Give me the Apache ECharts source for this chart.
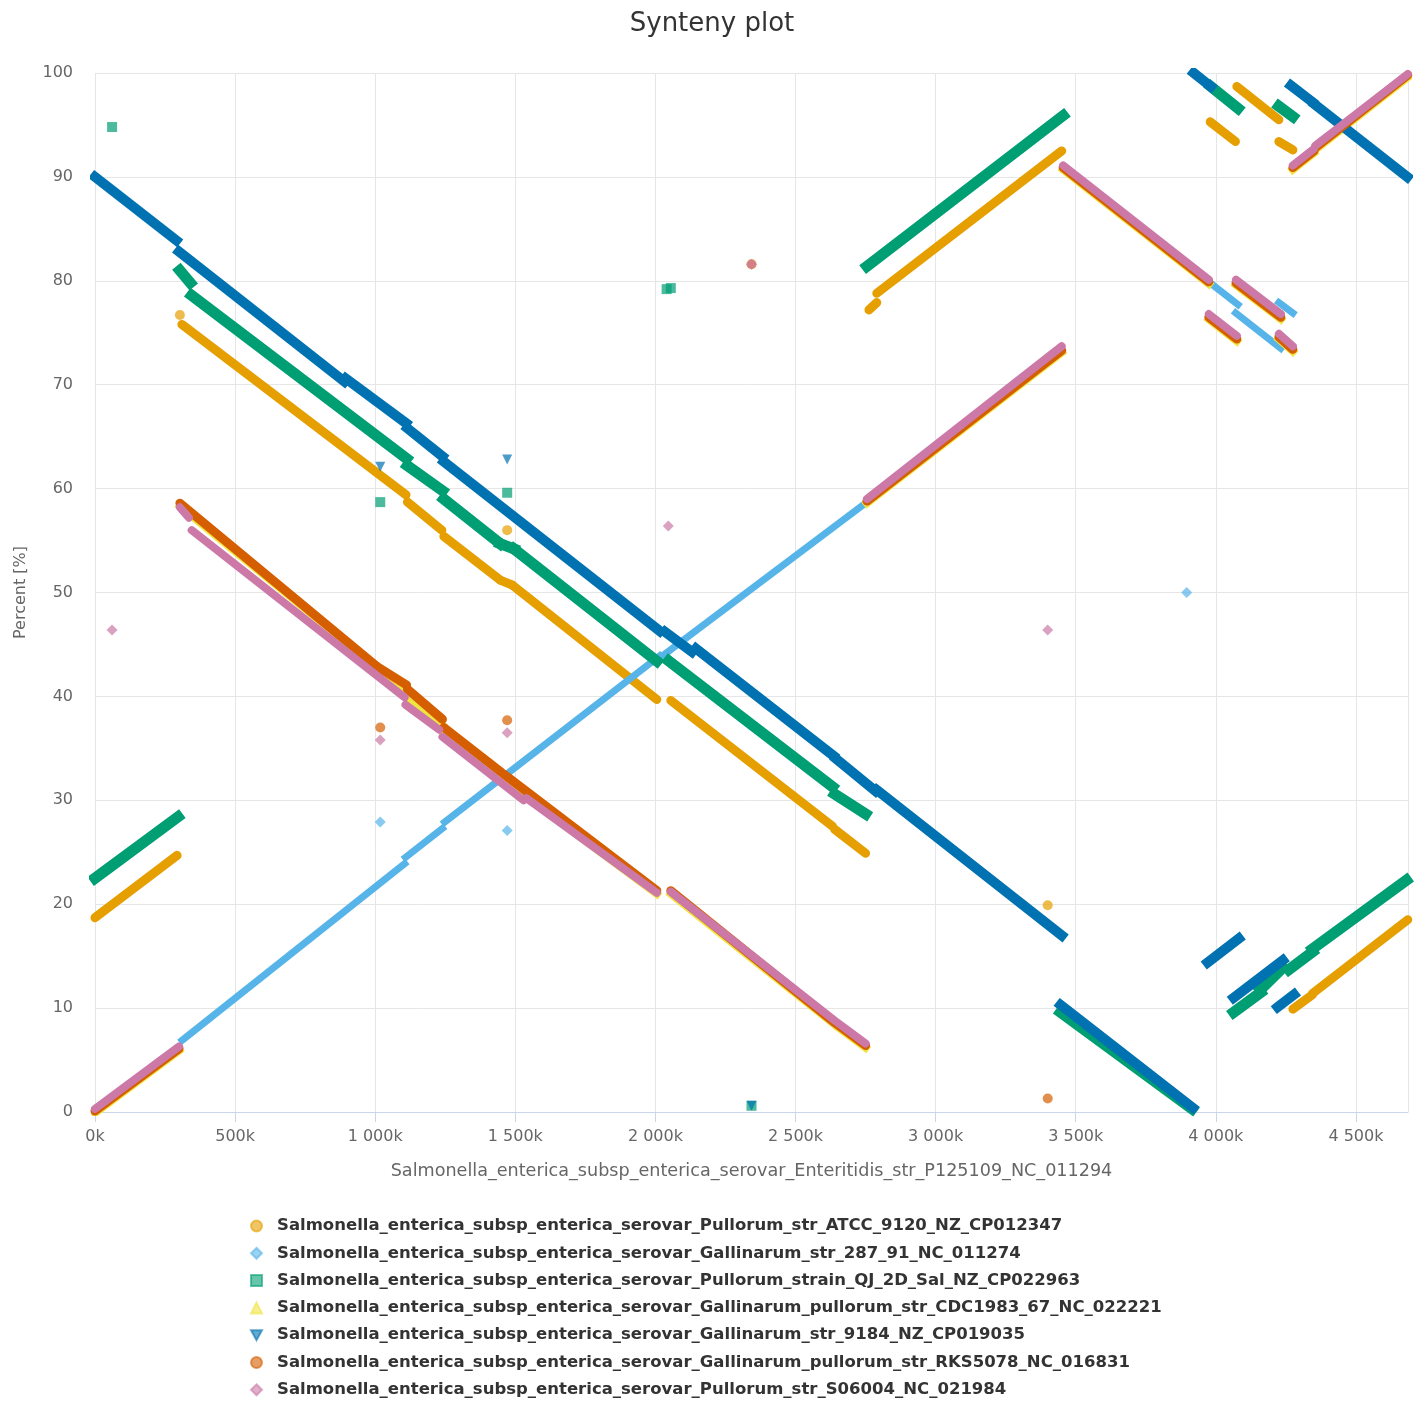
<!DOCTYPE html>
<html>
<head>
<meta charset="utf-8">
<script src="https://cdn.jsdelivr.net/npm/echarts@6/dist/echarts.min.js"></script>
<style>
html,body{margin:0;padding:0;background:#fff;}
#chart{width:1424px;height:1401px;}
</style>
</head>
<body>
<div id="chart"></div>
<script>
// ---- Data (x in bp of the Enteritidis P125109 reference, y in percent) ----
const seriesNames = [
  'Salmonella_enterica_subsp_enterica_serovar_Pullorum_str_ATCC_9120_NZ_CP012347',
  'Salmonella_enterica_subsp_enterica_serovar_Gallinarum_str_287_91_NC_011274',
  'Salmonella_enterica_subsp_enterica_serovar_Pullorum_strain_QJ_2D_Sal_NZ_CP022963',
  'Salmonella_enterica_subsp_enterica_serovar_Gallinarum_pullorum_str_CDC1983_67_NC_022221',
  'Salmonella_enterica_subsp_enterica_serovar_Gallinarum_str_9184_NZ_CP019035',
  'Salmonella_enterica_subsp_enterica_serovar_Gallinarum_pullorum_str_RKS5078_NC_016831',
  'Salmonella_enterica_subsp_enterica_serovar_Pullorum_str_S06004_NC_021984'
];
const xAxisTitle = 'Salmonella_enterica_subsp_enterica_serovar_Enteritidis_str_P125109_NC_011294';
const xTicks = [0, 500000, 1000000, 1500000, 2000000, 2500000, 3000000, 3500000, 4000000, 4500000];
const yTicks = [0, 10, 20, 30, 40, 50, 60, 70, 80, 90, 100];

// synteny runs: each is [start point, end point]
const atccRuns = [
  [[0,18.7],[293000,24.7]],
  [[310000,75.8],[1110000,59.4]],
  [[1115000,58.7],[1238000,56.0]],
  [[1245000,55.4],[1446000,51.2]],
  [[1446000,51.2],[1490000,50.7]],
  [[1490000,50.7],[2005000,39.7]],
  [[2055000,39.6],[2632000,27.5]],
  [[2640000,27.2],[2750000,24.9]],
  [[2762000,77.2],[2790000,77.9]],
  [[2790000,78.8],[3450000,92.5]],
  [[3980000,95.3],[4070000,93.4]],
  [[4075000,98.7],[4225000,95.5]],
  [[4225000,93.4],[4275000,92.6]],
  [[4275000,9.9],[4345000,11.3]],
  [[4345000,11.4],[4685000,18.5]]
];
const atccPoints = [[303000,76.7],[1471000,56.0],[3400000,19.9]];

const g28791Runs = [
  [[311000,6.9],[1105000,23.9]],
  [[1108000,24.5],[1240000,27.3]],
  [[1248000,27.9],[2015000,43.9]],
  [[2030000,44.0],[2750000,58.6]],
  [[3975000,79.9],[4079000,77.7]],
  [[4071000,76.9],[4232000,73.5]],
  [[4225000,77.9],[4275000,76.9]]
];
const g28791Points = [[1018000,27.9],[1471000,27.1],[3896000,50.0]];

const qjRuns = [
  [[0,22.5],[296000,28.4]],
  [[303000,81.0],[340000,79.8]],
  [[345000,78.6],[1112000,62.9]],
  [[1115000,62.2],[1240000,59.8]],
  [[1245000,59.0],[1446000,54.7]],
  [[1446000,54.7],[1495000,54.2]],
  [[1495000,54.2],[2005000,43.4]],
  [[2048000,43.4],[2632000,31.3]],
  [[2640000,30.6],[2750000,28.7]],
  [[2755000,81.4],[3455000,95.9]],
  [[3446000,9.6],[3915000,0.3]],
  [[3982000,98.7],[4079000,96.6]],
  [[4225000,96.8],[4275000,95.8]],
  [[4064000,9.6],[4160000,11.5]],
  [[4160000,11.8],[4239000,13.9]],
  [[4261000,13.7],[4345000,15.4]],
  [[4345000,15.7],[4680000,22.3]]
];
const qjPoints = [[61000,94.8],[1018000,58.7],[1471000,59.6],[2040000,79.2],[2055000,79.3],[2343000,0.6]];

const cdcRuns = [
  [[0,-0.1],[300000,5.9]],
  [[303000,58.3],[1105000,40.6]],
  [[1110000,39.9],[1240000,37.2]],
  [[1245000,36.5],[1530000,30.4]],
  [[1540000,30.3],[2005000,21.0]],
  [[2055000,21.0],[2640000,8.4]],
  [[2650000,8.2],[2750000,6.2]],
  [[2755000,58.6],[3450000,73.1]],
  [[3455000,90.7],[3975000,79.7]],
  [[4072000,79.6],[4232000,76.3]],
  [[3975000,76.3],[4075000,74.2]],
  [[4225000,74.4],[4275000,73.2]],
  [[4275000,90.7],[4350000,92.3]],
  [[4355000,92.6],[4685000,99.6]]
];
const cdcPoints = [];

const g9184Runs = [
  [[0,90.0],[290000,83.9]],
  [[300000,82.8],[890000,70.3]],
  [[895000,70.6],[1110000,66.3]],
  [[1115000,65.8],[1240000,63.1]],
  [[1245000,62.6],[2015000,46.3]],
  [[2035000,46.2],[2130000,44.3]],
  [[2145000,44.6],[2635000,34.3]],
  [[2645000,34.0],[2785000,30.9]],
  [[2790000,31.0],[3450000,17.0]],
  [[3446000,10.3],[3918000,0.4]],
  [[3921000,100.0],[3982000,98.7]],
  [[4268000,98.8],[4345000,97.2]],
  [[4352000,97.0],[4683000,90.0]],
  [[3971000,14.4],[4082000,16.7]],
  [[4064000,11.0],[4239000,14.6]],
  [[4221000,10.1],[4279000,11.3]]
];
const g9184Points = [[1018000,62.1],[1471000,62.8],[2343000,0.6]];

const rksRuns = [
  [[0,0.1],[300000,6.1]],
  [[303000,58.6],[1005000,42.9]],
  [[1005000,42.9],[1112000,41.1]],
  [[1115000,40.7],[1240000,37.8]],
  [[1245000,37.0],[1450000,32.7]],
  [[1460000,32.5],[2005000,21.3]],
  [[2055000,21.3],[2640000,8.6]],
  [[2650000,8.4],[2750000,6.4]],
  [[2755000,58.8],[3450000,73.3]],
  [[3455000,90.9],[3975000,79.9]],
  [[4072000,79.8],[4232000,76.5]],
  [[3975000,76.5],[4075000,74.4]],
  [[4225000,74.6],[4275000,73.4]],
  [[4275000,90.9],[4350000,92.5]],
  [[4355000,92.8],[4685000,99.8]]
];
const rksPoints = [[1018000,37.0],[1471000,37.7],[2343000,81.6],[3400000,1.3]];

const s06004Runs = [
  [[0,0.3],[300000,6.3]],
  [[303000,58.2],[335000,57.2]],
  [[345000,56.0],[1105000,39.9]],
  [[1108000,39.2],[1228000,36.8]],
  [[1240000,36.1],[1530000,30.0]],
  [[1540000,30.2],[2005000,21.1]],
  [[2055000,21.2],[2640000,8.8]],
  [[2650000,8.6],[2750000,6.6]],
  [[2755000,59.0],[3450000,73.7]],
  [[3455000,91.1],[3975000,80.1]],
  [[4072000,80.1],[4232000,76.8]],
  [[3975000,76.8],[4075000,74.7]],
  [[4225000,74.9],[4275000,73.7]],
  [[4275000,91.1],[4350000,92.7]],
  [[4355000,93.0],[4685000,99.9]]
];
const s06004Points = [[61000,46.4],[1018000,35.8],[1471000,36.5],[2046000,56.4],[2343000,81.6],[3400000,46.4]];

// ---- Styling ----
const colors = ['#E69F00','#56B4E9','#009E73','#F0E442','#0072B2','#D55E00','#CC79A7'];
const triDown = 'path://M0,0L10,0L5,9Z';
const symbols = ['circle','diamond','rect','triangle',triDown,'circle','diamond'];
const widths = [9, 7, 11, 8, 10, 9, 8];
const caps = ['round','square','square','square','square','round','round'];
const runs = [atccRuns, g28791Runs, qjRuns, cdcRuns, g9184Runs, rksRuns, s06004Runs];
const points = [atccPoints, g28791Points, qjPoints, cdcPoints, g9184Points, rksPoints, s06004Points];
const FONT = 'DejaVu Sans';

const series = [];
seriesNames.forEach((name, i) => {
  series.push({
    name: name,
    type: 'lines',
    coordinateSystem: 'cartesian2d',
    polyline: false,
    silent: true,
    z: 2 + i * 0.01,
    lineStyle: {color: colors[i], width: widths[i], opacity: 1, cap: caps[i]},
    data: runs[i].map(r => ({coords: r}))
  });
});
seriesNames.forEach((name, i) => {
  series.push({
    name: name,
    type: 'scatter',
    symbol: symbols[i],
    symbolSize: symbols[i] === 'diamond' ? 11 : 10,
    itemStyle: {color: colors[i], opacity: 0.7},
    z: 3,
    data: points[i]
  });
});

function fmtK(v) {
  const k = Math.round(v / 1000);
  return String(k).replace(/\B(?=(\d{3})+(?!\d))/g, ' ') + 'k';
}

const chart = echarts.init(document.getElementById('chart'), null, {renderer: 'canvas'});
chart.setOption({
  backgroundColor: '#ffffff',
  animation: false,
  textStyle: {fontFamily: FONT},
  title: {
    text: 'Synteny plot',
    left: 'center',
    top: 6,
    textStyle: {fontFamily: FONT, fontSize: 26, fontWeight: 'normal', color: '#333333'}
  },
  legend: {
    orient: 'vertical',
    left: 250,
    top: 1217,
    height: 190,
    padding: 0,
    itemWidth: 11,
    itemHeight: 11,
    itemGap: 9.3,
    textStyle: {fontFamily: FONT, fontSize: 16.5, fontWeight: 'bold', color: '#333333', lineHeight: 18, padding: [0, 0, 0, 10]},
    data: seriesNames.map((n, i) => ({
      name: n,
      icon: symbols[i],
      itemStyle: {color: colors[i], opacity: 0.6}
    }))
  },
  grid: {left: 95, right: 16, top: 73, bottom: 289, containLabel: false},
  xAxis: {
    type: 'value',
    min: 0,
    max: 4685848,
    interval: 500000,
    name: xAxisTitle,
    nameLocation: 'middle',
    nameGap: 50,
    nameTextStyle: {fontFamily: FONT, fontSize: 17.6, color: '#666666'},
    axisLine: {show: true, lineStyle: {color: '#ccd6eb', width: 1}},
    axisTick: {show: true, length: 10, lineStyle: {color: '#ccd6eb'}},
    axisLabel: {
      fontFamily: FONT, fontSize: 16, color: '#666666', margin: 17,
      showMaxLabel: false,
      formatter: v => xTicks.indexOf(v) >= 0 ? fmtK(v) : ''
    },
    splitLine: {show: true, lineStyle: {color: '#e6e6e6', width: 1}}
  },
  yAxis: {
    type: 'value',
    min: yTicks[0],
    max: yTicks[yTicks.length - 1],
    interval: 10,
    name: 'Percent [%]',
    nameLocation: 'middle',
    nameGap: 66,
    nameRotate: 90,
    nameTextStyle: {fontFamily: FONT, fontSize: 16, color: '#666666'},
    axisLine: {show: false},
    axisTick: {show: false},
    axisLabel: {fontFamily: FONT, fontSize: 16, color: '#666666', margin: 22},
    splitLine: {show: true, lineStyle: {color: '#e6e6e6', width: 1}}
  },
  series: series
});
</script>
</body>
</html>
